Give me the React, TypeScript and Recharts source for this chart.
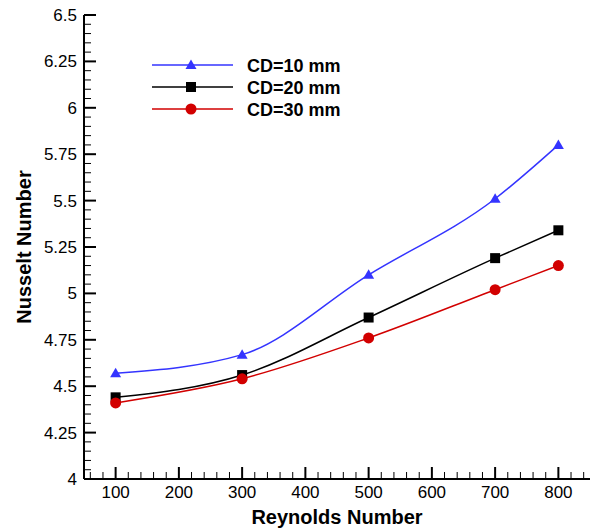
import { LineChart, Line, XAxis, YAxis, Legend } from 'recharts'

// Nusselt number vs Reynolds number for three CD spacings
const reynolds = [100, 300, 500, 700, 800]
const cd10 = [4.57, 4.67, 5.1, 5.51, 5.8]
const cd20 = [4.44, 4.56, 4.87, 5.19, 5.34]
const cd30 = [4.41, 4.54, 4.76, 5.02, 5.15]

const xMajor = [100, 200, 300, 400, 500, 600, 700, 800]
const yMajor = [4, 4.25, 4.5, 4.75, 5, 5.25, 5.5, 5.75, 6, 6.25, 6.5]

const FONT = '"Liberation Sans", Arial, Helvetica, sans-serif'
const BLUE = '#3434ff'
const RED = '#d20000'

const rows = reynolds.map((re, i) => ({ re, cd10: cd10[i], cd20: cd20[i], cd30: cd30[i] }))

// minor ticks every `step`, majors included
const steps = (from: number, to: number, step: number) => {
  const out: number[] = []
  for (let v = from; v <= to + 1e-9; v += step) out.push(Number(v.toFixed(3)))
  return out
}
const xTicks = steps(60, 840, 20)
const yTicks = steps(4, 6.5, 0.05)
const isMajor = (list: number[], v: number) => list.some(m => Math.abs(m - v) < 1e-6)

// ticks point into the plot, labels sit outside
const XTick = ({ x, y, payload }: any) => {
  const major = isMajor(xMajor, payload.value)
  return (
    <g>
      <line x1={x} x2={x} y1={y} y2={y - (major ? 12 : 7)} stroke="#000" strokeWidth={major ? 2 : 1} />
      {major && (
        <text x={x} y={y + 19} textAnchor="middle" fontSize={17} fontFamily={FONT} fill="#000">
          {payload.value}
        </text>
      )}
    </g>
  )
}

const YTick = ({ x, y, payload }: any) => {
  const major = isMajor(yMajor, payload.value)
  return (
    <g>
      <line x1={x} x2={x + (major ? 12 : 7)} y1={y} y2={y} stroke="#000" strokeWidth={major ? 2 : 1} />
      {major && (
        <text x={x - 7} y={y + 6} textAnchor="end" fontSize={17} fontFamily={FONT} fill="#000">
          {payload.value}
        </text>
      )}
    </g>
  )
}

const XTitle = ({ viewBox }: any) => (
  <text x={viewBox.x + viewBox.width / 2} y={viewBox.y + 45} textAnchor="middle"
    fontSize={20} fontWeight="bold" fontFamily={FONT} fill="#000">
    Reynolds Number
  </text>
)

const YTitle = ({ viewBox }: any) => {
  const cx = viewBox.x + 31
  const cy = viewBox.y + viewBox.height / 2
  return (
    <text x={cx} y={cy} transform={`rotate(-90 ${cx} ${cy})`} textAnchor="middle"
      fontSize={20} fontWeight="bold" fontFamily={FONT} fill="#000">
      Nusselt Number
    </text>
  )
}

const Marker = ({ kind, cx, cy, fill }: any) => {
  if (kind === 'tri')
    return <path d={`M${cx},${cy - 5.5} L${cx + 5.5},${cy + 4} L${cx - 5.5},${cy + 4} Z`} fill={fill} />
  if (kind === 'sq')
    return <rect x={cx - 5} y={cy - 5} width={10} height={10} fill={fill} />
  return <circle cx={cx} cy={cy} r={5.5} fill={fill} />
}

const markerOf: Record<string, string> = { cd10: 'tri', cd20: 'sq', cd30: 'dot' }

const renderLegend = ({ payload }: any) => (
  <svg width={240} height={70}>
    {(payload || []).map((p: any, i: number) => {
      const cy = 11 + i * 22
      return (
        <g key={p.dataKey}>
          <line x1={2} x2={83} y1={cy} y2={cy} stroke={p.color} strokeWidth={1.5} />
          <Marker kind={markerOf[p.dataKey]} cx={41} cy={cy} fill={p.color} />
          <text x={97} y={cy + 6.5} fontSize={18} fontWeight="bold" fontFamily={FONT} fill="#000">
            {p.value}
          </text>
        </g>
      )
    })}
  </svg>
)

const dotFor = (kind: string, color: string) => (props: any) =>
  <Marker key={`${kind}-${props.index}`} kind={kind} cx={props.cx} cy={props.cy} fill={color} />

export default function App() {
  return (
    <div style={{ position: 'absolute', left: 0, top: 0, background: '#fff' }}>
      <LineChart width={594} height={529} data={rows} margin={{ top: 15, right: 4, left: 0, bottom: 0 }}>
        <XAxis dataKey="re" type="number" domain={[50, 850]} ticks={xTicks} interval={0}
          tick={<XTick />} tickLine={false} tickSize={0} tickMargin={0} height={50}
          axisLine={{ stroke: '#000', strokeWidth: 2 }} label={<XTitle />} />
        <XAxis xAxisId="top" dataKey="re" type="number" domain={[50, 850]} orientation="top"
          tick={false} tickLine={false} height={0} axisLine={{ stroke: '#000', strokeWidth: 2 }} />
        <YAxis type="number" domain={[4, 6.5]} ticks={yTicks} interval={0}
          tick={<YTick />} tickLine={false} tickSize={0} tickMargin={0} width={84}
          axisLine={{ stroke: '#000', strokeWidth: 2 }} label={<YTitle />} />
        <YAxis yAxisId="right" type="number" domain={[4, 6.5]} orientation="right"
          tick={false} tickLine={false} width={0} axisLine={{ stroke: '#000', strokeWidth: 2 }} />
        <Legend content={renderLegend} layout="vertical" align="center" verticalAlign="middle"
          wrapperStyle={{ left: 150, top: 54, width: 240, height: 70 }} />
        <Line dataKey="cd10" name="CD=10 mm" type="monotone" stroke={BLUE} strokeWidth={1.5}
          dot={dotFor('tri', BLUE)} activeDot={false} isAnimationActive={false} />
        <Line dataKey="cd20" name="CD=20 mm" type="monotone" stroke="#000" strokeWidth={1.5}
          dot={dotFor('sq', '#000')} activeDot={false} isAnimationActive={false} />
        <Line dataKey="cd30" name="CD=30 mm" type="monotone" stroke={RED} strokeWidth={1.5}
          dot={dotFor('dot', RED)} activeDot={false} isAnimationActive={false} />
      </LineChart>
    </div>
  )
}
